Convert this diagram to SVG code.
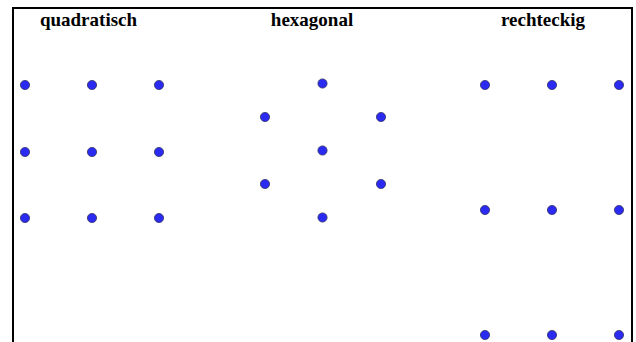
<svg xmlns="http://www.w3.org/2000/svg" width="636" height="342" viewBox="0 0 636 342">
<style>
.t{font-family:"Liberation Serif","Times New Roman",serif;font-weight:bold;font-size:19px;fill:#000;text-anchor:middle}
.d{fill:#2a2af0;stroke:#333366;stroke-width:0.8}
</style>
<rect x="0" y="0" width="636" height="342" fill="#fff"/>
<path d="M13,342 V8 H632 V342" fill="none" stroke="#000" stroke-width="2"/>
<g id="quadratisch">
<text class="t" x="88.5" y="26">quadratisch</text>
<circle class="d" cx="25" cy="85" r="4.6"/><circle class="d" cx="92" cy="85" r="4.6"/><circle class="d" cx="159" cy="85" r="4.6"/>
<circle class="d" cx="25" cy="152" r="4.6"/><circle class="d" cx="92" cy="152" r="4.6"/><circle class="d" cx="159" cy="152" r="4.6"/>
<circle class="d" cx="25" cy="218" r="4.6"/><circle class="d" cx="92" cy="218" r="4.6"/><circle class="d" cx="159" cy="218" r="4.6"/>
</g>
<g id="hexagonal">
<text class="t" x="312" y="26">hexagonal</text>
<circle class="d" cx="322.5" cy="83.5" r="4.6"/>
<circle class="d" cx="265" cy="117" r="4.6"/><circle class="d" cx="381" cy="117" r="4.6"/>
<circle class="d" cx="322.5" cy="150.5" r="4.6"/>
<circle class="d" cx="265" cy="184" r="4.6"/><circle class="d" cx="381" cy="184" r="4.6"/>
<circle class="d" cx="322.5" cy="217.5" r="4.6"/>
</g>
<g id="rechteckig">
<text class="t" x="543" y="26">rechteckig</text>
<circle class="d" cx="485" cy="85" r="4.6"/><circle class="d" cx="552" cy="85" r="4.6"/><circle class="d" cx="619" cy="85" r="4.6"/>
<circle class="d" cx="485" cy="210" r="4.6"/><circle class="d" cx="552" cy="210" r="4.6"/><circle class="d" cx="619" cy="210" r="4.6"/>
<circle class="d" cx="485" cy="335" r="4.6"/><circle class="d" cx="552" cy="335" r="4.6"/><circle class="d" cx="619" cy="335" r="4.6"/>
</g>
<g id="connectors"></g>
</svg>
